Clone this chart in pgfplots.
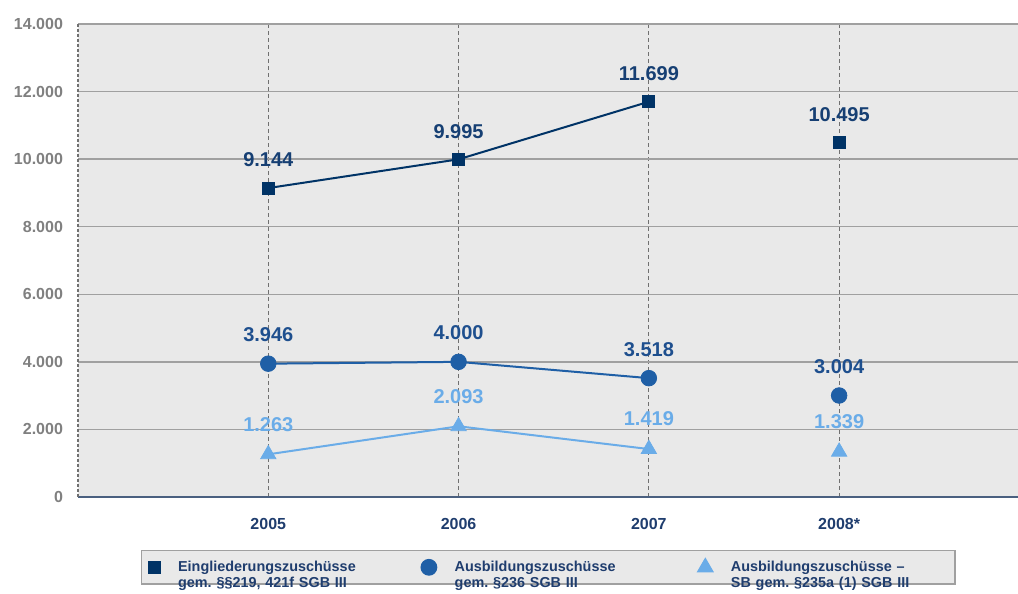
\documentclass[border=0pt]{standalone}
\usepackage{fontspec}
\setmainfont{Liberation Sans}
\usepackage{pgfplots}
\pgfplotsset{compat=1.18}
\definecolor{sOne}{HTML}{003366}
\definecolor{sTwo}{HTML}{1F5FA6}
\definecolor{sThree}{HTML}{6AACE8}
\definecolor{lOne}{HTML}{163F73}
\definecolor{lTwo}{HTML}{1E4F8E}
\definecolor{bgGray}{HTML}{E9E9E9}
\definecolor{gridGray}{HTML}{A0A0A0}
\definecolor{dashGray}{HTML}{707070}
\definecolor{tickGray}{HTML}{808080}
\definecolor{axisBlue}{HTML}{4A6080}
\definecolor{legText}{HTML}{1F3D6E}
\frenchspacing
\pgfplotsset{
  lgmark/.style={legend image code/.code={\draw[mark repeat=2,mark phase=2,##1] plot coordinates {(0pt,0pt)(6pt,0pt)(12pt,0pt)};}},
  lab/.style={nodes near coords, point meta=y,
    every node near coord/.append style={anchor=center, yshift=#1,
      font=\bfseries\fontsize{10}{12}\selectfont}},
}
\begin{document}
\begin{tikzpicture}
\path[use as bounding box] (0,0) rectangle (509pt,297pt);
\begin{axis}[
  at={(39pt,48.5pt)}, anchor=south west,
  scale only axis, width=470pt, height=236.5pt,
  xmin=-1, xmax=3.94, ymin=0, ymax=14000,
  xtick={0,1,2,3}, xticklabels={2005,2006,2007,2008*},
  ytick={0,2000,...,14000},
  /pgf/number format/1000 sep={.},
  /pgf/number format/assume math mode=true,
  scaled y ticks=false,
  major tick length=0pt,
  axis background/.style={fill=bgGray},
  axis x line*=bottom, axis y line*=left,
  x axis line style={draw=axisBlue, line width=1pt},
  y axis line style={draw=dashGray, line width=0.6pt, dash pattern=on 1.5pt off 1pt},
  xmajorgrids, ymajorgrids,
  major x grid style={draw=dashGray, line width=0.5pt, dash pattern=on 2pt off 1.5pt},
  major y grid style={draw=gridGray, line width=0.7pt},
  yticklabel style={text=tickGray, font=\bfseries\fontsize{8}{9}\selectfont, xshift=-4pt},
  xticklabel style={text=legText, font=\bfseries\fontsize{8}{9}\selectfont, yshift=-7pt},
  legend columns=3,
  legend cell align=left,
  legend style={at={(axis description cs:0.0665,0)}, anchor=north west, yshift=-26.5pt,
    fill=bgGray, draw=gridGray, line width=0.6pt, inner xsep=3.5pt, inner ysep=3pt,
    font=\bfseries\fontsize{7.2}{8}\selectfont, text=legText,
    nodes={text width=105.5pt, align=left, inner xsep=3pt},
    /tikz/every odd column/.append style={column sep=6pt},
    /tikz/every even column/.append style={column sep=13pt}},
]
\addplot[sOne, line width=1pt, forget plot] coordinates {(0,9144) (1,9995) (2,11699)};
\addplot[sTwo, line width=1pt, forget plot] coordinates {(0,3946) (1,4000) (2,3518)};
\addplot[sThree, line width=1pt, forget plot] coordinates {(0,1263) (1,2093) (2,1419)};

\addplot[only marks, mark=square*, mark size=3pt, color=sOne, lgmark,
  lab=14pt, every node near coord/.append style={text=lOne}]
  coordinates {(0,9144) (1,9995) (2,11699) (3,10495)};
\addlegendentry{Eingliederungszuschüsse\\gem. §§219, 421f SGB III}
\addplot[only marks, mark=*, mark size=3.9pt, color=sTwo, lgmark,
  lab=14.5pt, every node near coord/.append style={text=lTwo}]
  coordinates {(0,3946) (1,4000) (2,3518) (3,3004)};
\addlegendentry{Ausbildungszuschüsse\\gem. §236 SGB III}
\addplot[only marks, mark=triangle*, mark size=4.4pt, color=sThree, lgmark,
  lab=15pt, every node near coord/.append style={text=sThree}]
  coordinates {(0,1263) (1,2093) (2,1419) (3,1339)};
\addlegendentry{Ausbildungszuschüsse –\\SB gem. §235a (1) SGB III}
\end{axis}
\end{tikzpicture}
\end{document}
